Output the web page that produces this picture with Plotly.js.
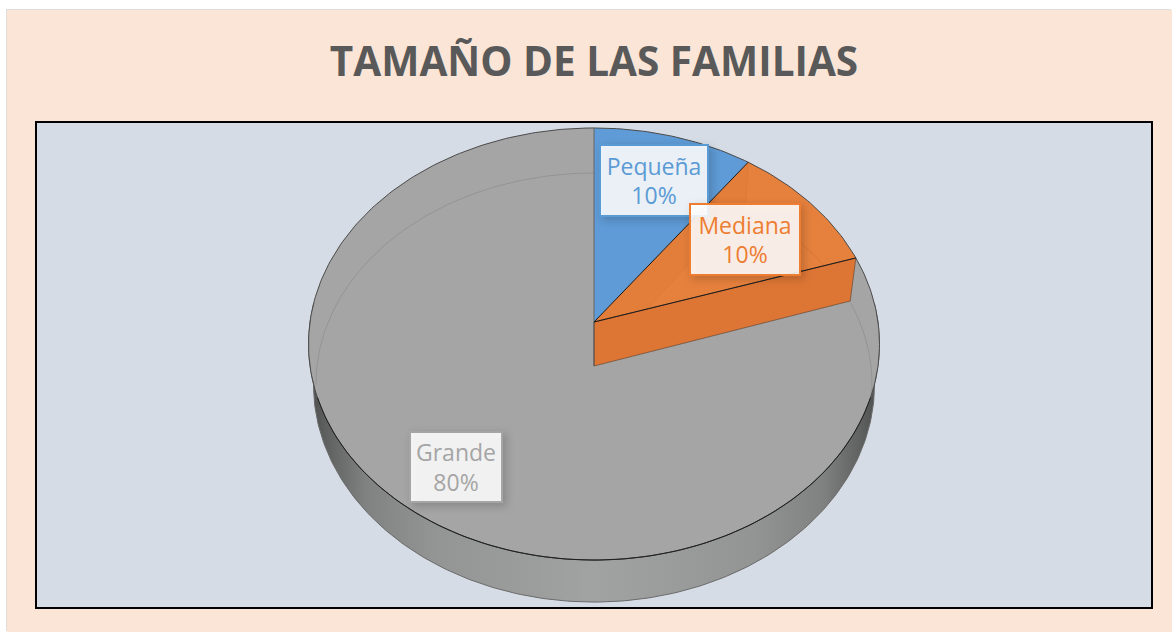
<!DOCTYPE html>
<html>
<head>
<meta charset="utf-8">
<script src="https://cdn.plot.ly/plotly-3.0.1.min.js"></script>
<style>
html,body{margin:0;padding:0;background:#fff;width:1172px;height:632px;overflow:hidden}
#chart{position:absolute;left:7px;top:10px;width:1165px;height:622px;box-shadow:-1px -1px 0 #dedede}
.annotation rect{filter:drop-shadow(3px 3px 4px rgba(0,0,0,.2))}
</style>
</head>
<body>
<div id="chart"></div>
<script>
// Chart data
const categories = ['Pequeña', 'Mediana', 'Grande'];
const values = [10, 10, 80];
const sliceColors = ['#5F9BD6', '#E6813D', '#A5A5A5'];
const labelColors = ['#5B9BD5', '#ED7D31', '#A5A5A5'];
const chartTitle = 'TAMAÑO DE LAS FAMILIAS';

// Perspective of the tilted disk (axes run in the picture plane)
const topPlane = {y0: 322, A: 284, B: 213.8, k: 0.1019};
const lowPlane = {y0: 366, A: 276.5, B: 216, k: 0.085};
const wallPlane = {y0: 366, A: 279.5, B: 216, k: 0.085};
const farPlane = {y0: 366, A: 277, B: 209.4, k: 0.085};
const cx = 594;
function proj(p, deg) {
  const t = deg * Math.PI / 180, u = Math.sin(t), v = Math.cos(t), w = 1 + p.k * v;
  return [cx + p.A * u / w, p.y0 - p.B * v / w];
}
function arc(p, a, b) {
  const n = Math.max(2, Math.ceil(Math.abs(b - a))), out = [];
  for (let i = 0; i <= n; i++) out.push(proj(p, a + (b - a) * i / n));
  return out;
}
const xs = pts => pts.map(q => q[0]);
const ys = pts => pts.map(q => q[1]);

const total = values.reduce((s, v) => s + v, 0);
const angles = [0];
values.forEach(v => angles.push(angles[angles.length - 1] + 360 * v / total));

const traces = [];
function poly(pts, opts) {
  traces.push(Object.assign({type: 'scatter', mode: 'lines', x: xs(pts), y: ys(pts), fill: 'toself',
    hoverinfo: 'skip', showlegend: false, line: {width: 0}}, opts));
}
function stroke(pts, col, w) {
  traces.push({type: 'scatter', mode: 'lines', x: xs(pts), y: ys(pts), hoverinfo: 'skip', showlegend: false,
    line: {width: w, color: col}});
}

// Side wall of the disk, with its shading
const wall = arc(topPlane, 85, 275).concat(arc(wallPlane, 275, 85));
poly(wall, {
  fillgradient: {type: 'horizontal', colorscale: [
    [0, '#4a4b4b'], [0.03, '#5e5f5f'], [0.1, '#808181'], [0.22, '#939494'], [0.5, '#a1a2a2'],
    [0.78, '#939494'], [0.9, '#808181'], [0.97, '#5e5f5f'], [1, '#4a4b4b']]},
  line: {width: 1, color: '#6a6a6a'}
});

// Top faces, from the values
[2, 0, 1].forEach(i => {
  const pts = [[cx, topPlane.y0]].concat(arc(topPlane, angles[i], angles[i + 1]));
  pts.push([cx, topPlane.y0]);
  poly(pts, {name: categories[i], fillcolor: sliceColors[i], line: {width: 0, color: sliceColors[i]}});
});

// Faint far rim of the lower plane
stroke(arc(farPlane, 265, 360), 'rgba(110,110,110,0.30)', 1);
stroke(arc(farPlane, 72, 97), 'rgba(110,110,110,0.30)', 1);
stroke(arc(farPlane, 40, 72), 'rgba(150,70,20,0.16)', 1);

// Cut faces of the orange slice
const a1 = angles[1], a2 = angles[2];
poly([[cx, topPlane.y0], proj(topPlane, a1), proj(lowPlane, a1), [cx, lowPlane.y0]],
  {fillcolor: 'rgba(200,100,40,0.10)', line: {width: 0.5, color: 'rgba(150,70,20,0.16)'}});
poly([[cx, topPlane.y0], proj(topPlane, a2), proj(lowPlane, a2), [cx, lowPlane.y0], [cx, topPlane.y0]],
  {fillcolor: '#DD7635', line: {width: 1, color: 'rgba(90,60,40,0.6)'}});

// Outlines
stroke(arc(topPlane, 0, 360), '#4a4a4a', 1);
stroke(arc(topPlane, 110, 250), '#1f1f1f', 1);
const hub = [cx, topPlane.y0];
stroke([proj(topPlane, 0), hub], '#666666', 1);
stroke([hub, [cx, lowPlane.y0]], '#555555', 1);
stroke([hub, proj(topPlane, a1)], '#1a1a1a', 1);
stroke([hub, proj(topPlane, a2)], '#1a1a1a', 1);

// Labels
const labelBoxes = [[654, 180, 106, 69], [745, 239, 108, 69], [456, 467, 90, 68]];
const annotations = categories.map((c, i) => ({
  xref: 'x', yref: 'y', x: labelBoxes[i][0], y: labelBoxes[i][1], showarrow: false,
  text: c + '<br>' + values[i] + '%', align: 'center', valign: 'middle',
  width: labelBoxes[i][2], height: labelBoxes[i][3], borderpad: 0, borderwidth: 2,
  bordercolor: labelColors[i], bgcolor: 'rgba(255,255,255,0.88)',
  font: {family: '"Open Sans", sans-serif', size: 23, color: labelColors[i]}
}));

const layout = {
  width: 1165, height: 622,
  margin: {l: 30, r: 21, t: 113, b: 25, pad: 0},
  paper_bgcolor: '#FBE5D6', plot_bgcolor: '#D6DCE5',
  showlegend: false,
  title: {text: '<b>' + chartTitle + '</b>', x: 587 / 1165, xanchor: 'center', xref: 'container', yref: 'container',
    y: 1 - 52 / 622, yanchor: 'middle', font: {family: '"Open Sans", sans-serif', size: 40.5, color: '#595959'}},
  xaxis: {range: [37, 1151], showgrid: false, zeroline: false, showticklabels: false, ticks: '',
    showline: true, mirror: true, linecolor: '#000', linewidth: 2, fixedrange: true},
  yaxis: {range: [607, 123], showgrid: false, zeroline: false, showticklabels: false, ticks: '',
    showline: true, mirror: true, linecolor: '#000', linewidth: 2, fixedrange: true},
  annotations: annotations
};
Plotly.newPlot('chart', traces, layout, {displayModeBar: false, staticPlot: true});
</script>
</body>
</html>
